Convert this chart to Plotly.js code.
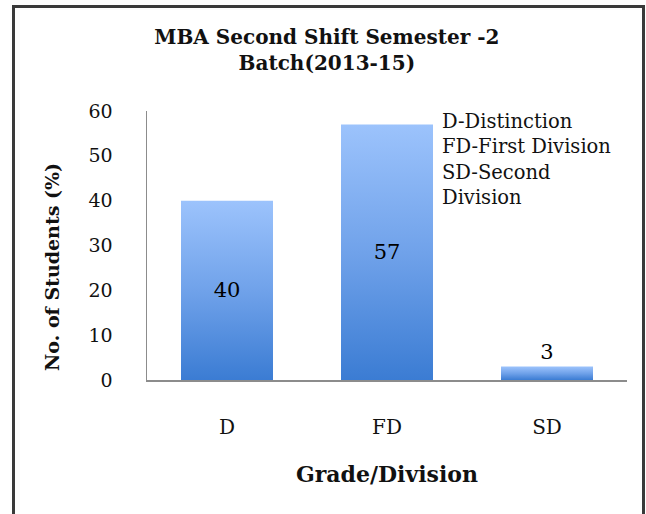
<!DOCTYPE html>
<html>
<head>
<meta charset="utf-8">
<script src="https://cdn.plot.ly/plotly-3.0.1.min.js"></script>
<style>
  html, body { margin: 0; padding: 0; background: #fff; }
  #chart { width: 646px; height: 514px; }
</style>
</head>
<body>
<div id="chart"></div>
<script>
// ---- data ----
const categories = ['D', 'FD', 'SD'];
const percentages = [40, 57, 3];
const valueLabels = ['40', '57', '3'];
const yTicks = [0, 10, 20, 30, 40, 50, 60];
const legendNote = ['D-Distinction', 'FD-First Division', 'SD-Second', 'Division'];

const serif = '"DejaVu Serif", serif';

const trace = {
  type: 'bar',
  x: categories,
  y: percentages,
  text: valueLabels,
  textposition: 'auto',
  insidetextanchor: 'middle',
  constraintext: 'none',
  cliponaxis: false,
  textfont: { family: serif, size: 21, color: '#000' },
  insidetextfont: { family: serif, size: 21, color: '#000' },
  outsidetextfont: { family: serif, size: 21, color: '#000' },
  marker: { color: '#6a9ee8', line: { width: 0 } },
  hoverinfo: 'x+y'
};

const layout = {
  width: 646,
  height: 514,
  margin: { l: 147, r: 19, t: 111, b: 134 },
  paper_bgcolor: '#ffffff',
  plot_bgcolor: '#ffffff',
  showlegend: false,
  bargap: 0.425,
  title: {
    text: '<b>MBA Second Shift Semester -2<br>Batch(2013-15)</b>',
    font: { family: serif, size: 20, color: '#111' },
    xref: 'container', x: 0.506, xanchor: 'center',
    yref: 'container', y: 1 - 44 / 514, yanchor: 'top'
  },
  xaxis: {
    type: 'category',
    showline: true, linecolor: '#8c8c8c', linewidth: 1.5,
    showgrid: false, zeroline: false,
    ticks: 'outside', ticklen: 28, tickcolor: 'rgba(0,0,0,0)',
    tickfont: { family: serif, size: 20, color: '#111' },
    automargin: false,
    title: {
      text: '<b>Grade/Division</b>',
      font: { family: serif, size: 22, color: '#111' },
      standoff: 29
    }
  },
  yaxis: {
    range: [0, 60],
    tickvals: yTicks,
    showline: true, linecolor: '#8c8c8c', linewidth: 1.5,
    showgrid: false, zeroline: false,
    ticks: 'outside', ticklen: 29, tickcolor: 'rgba(0,0,0,0)',
    tickfont: { family: serif, size: 19, color: '#111' },
    automargin: false
  },
  annotations: [{
    text: '<b>No. of Students (%)</b>',
    xref: 'paper', yref: 'paper',
    x: (52 - 147) / 480, y: (380 - 267) / 269,
    xanchor: 'center', yanchor: 'middle',
    textangle: -90, showarrow: false,
    font: { family: serif, size: 19, color: '#111' }
  }, {
    text: legendNote.join('<br>'),
    xref: 'paper', yref: 'paper',
    x: (440 - 147) / 480, y: (380 - 108) / 269,
    xanchor: 'left', yanchor: 'top', align: 'left',
    showarrow: false,
    font: { family: serif, size: 19.5, color: '#111' }
  }],
  shapes: [{
    type: 'rect', xref: 'paper', yref: 'paper',
    x0: (13.5 - 147) / 480, x1: (643.5 - 147) / 480,
    y0: (380 - 530) / 269, y1: (380 - 6.5) / 269,
    line: { color: '#3a3a3a', width: 3 },
    fillcolor: 'rgba(0,0,0,0)',
    layer: 'below'
  }]
};

Plotly.newPlot('chart', [trace], layout, { displayModeBar: false, staticPlot: true }).then(function (gd) {
  const svg = gd.querySelector('svg.main-svg');
  const NS = 'http://www.w3.org/2000/svg';
  let defs = svg.querySelector('defs');
  if (!defs) { defs = document.createElementNS(NS, 'defs'); svg.insertBefore(defs, svg.firstChild); }
  const grad = document.createElementNS(NS, 'linearGradient');
  grad.setAttribute('id', 'barGrad');
  grad.setAttribute('x1', '0'); grad.setAttribute('y1', '0');
  grad.setAttribute('x2', '0'); grad.setAttribute('y2', '1');
  [['0%', '#9cc3fc'], ['50%', '#70a2ea'], ['100%', '#3b7cd3']].forEach(function (s) {
    const st = document.createElementNS(NS, 'stop');
    st.setAttribute('offset', s[0]);
    st.setAttribute('stop-color', s[1]);
    grad.appendChild(st);
  });
  defs.appendChild(grad);
  gd.querySelectorAll('.barlayer .point path').forEach(function (p) {
    p.style.fill = 'url(#barGrad)';
  });
});
</script>
</body>
</html>
